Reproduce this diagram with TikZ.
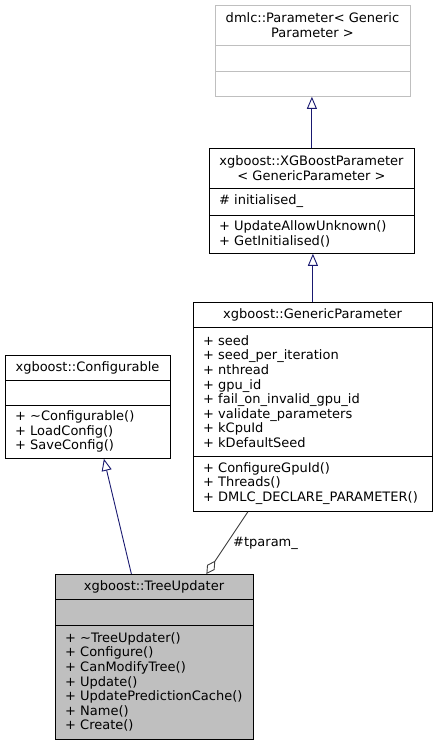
\documentclass[tikz,border=0pt]{standalone}
\usepackage{fontspec}
\setmainfont{DejaVu Sans}
\usetikzlibrary{arrows.meta}
\definecolor{edgeblue}{HTML}{191970}
\definecolor{grayborder}{HTML}{BFBFBF}
\definecolor{usegray}{HTML}{404040}
\definecolor{tufill}{HTML}{BFBFBF}
\begin{document}
\begin{tikzpicture}[x=1pt,y=-1pt,
  txt/.style={font=\fontsize{13}{14.6}\selectfont, inner sep=0pt, text=black},
  titletxt/.style={txt, align=center},
  membtxt/.style={txt, align=left, anchor=west},
  classbox/.style={draw=black, line width=0.8pt, anchor=north west, inner sep=0pt},
  graybox/.style={classbox, draw=grayborder},
  divider/.style={draw=black, line width=0.8pt},
  graydivider/.style={divider, draw=grayborder},
  inherit/.style={draw=edgeblue, line width=0.9pt, -{Triangle[length=12pt, width=10pt, fill=white]}},
  aggr/.style={draw=usegray, line width=0.9pt, -{Diamond[length=16pt, width=9pt, fill=white]}},
  lbl/.style={txt, text=black}
]
\useasboundingbox (0,0) rectangle (437,745);

% dmlc::Parameter
\node[graybox, minimum width=195pt, minimum height=91pt] (param) at (215,5) {};
\draw[graydivider] (215,45) -- (410,45);
\draw[graydivider] (215,71) -- (410,71);
\node[titletxt] (paramT) at (312.5,25) {dmlc::Parameter< Generic\\Parameter >};

% XGBoostParameter
\node[classbox, minimum width=205pt, minimum height=105pt] (xgb) at (209,148) {};
\draw[divider] (209,188) -- (414,188);
\draw[divider] (209,215) -- (414,215);
\node[titletxt] (xgbT) at (311.5,168) {xgboost::XGBoostParameter\\< GenericParameter >};
\node[membtxt] (xgbA) at (219,201.5) {\# initialised\_};
\node[membtxt] (xgbM) at (219,234) {+ UpdateAllowUnknown()\\+ GetInitialised()};

% GenericParameter
\node[classbox, minimum width=239pt, minimum height=209pt] (gp) at (193,302) {};
\draw[divider] (193,327) -- (432,327);
\draw[divider] (193,456) -- (432,456);
\node[titletxt] (gpT) at (312.5,314.5) {xgboost::GenericParameter};
\node[membtxt] (gpA) at (203,391.5) {+ seed\\+ seed\_per\_iteration\\+ nthread\\+ gpu\_id\\+ fail\_on\_invalid\_gpu\_id\\+ validate\_parameters\\+ kCpuId\\+ kDefaultSeed};
\node[membtxt] (gpM) at (203,483.5) {+ ConfigureGpuId()\\+ Threads()\\+ DMLC\_DECLARE\_PARAMETER()};

% Configurable
\node[classbox, minimum width=165pt, minimum height=103pt] (conf) at (5,355) {};
\draw[divider] (5,380) -- (170,380);
\draw[divider] (5,405) -- (170,405);
\node[titletxt] (confT) at (87.5,367.5) {xgboost::Configurable};
\node[membtxt] (confM) at (15,431.5) {+ \textasciitilde Configurable()\\+ LoadConfig()\\+ SaveConfig()};

% TreeUpdater
\node[classbox, fill=tufill, minimum width=198pt, minimum height=165pt] (tu) at (55,574) {};
\draw[divider] (55,599) -- (253,599);
\draw[divider] (55,625) -- (253,625);
\node[titletxt] (tuT) at (154,586.5) {xgboost::TreeUpdater};
\node[membtxt] (tuM) at (65,682) {+ \textasciitilde TreeUpdater()\\+ Configure()\\+ CanModifyTree()\\+ Update()\\+ UpdatePredictionCache()\\+ Name()\\+ Create()};

% connectors
\draw[inherit] (xgb.north) -- (xgb.north |- param.south);
\draw[inherit] (gp.north) -- (gp.north |- xgb.south);
\coordinate (tuUp) at ([xshift=-23pt]tu.north);
\coordinate (confDown) at ([xshift=16pt]conf.south);
\draw[inherit] (tuUp) -- (confDown);
\coordinate (gpDown) at ([xshift=-65pt]gp.south);
\coordinate (tuIn) at ([xshift=52pt]tu.north);
\draw[aggr] (gpDown) -- (tuIn);
\node[lbl, anchor=west] (tplabel) at (233,543) {\#tparam\_};
\end{tikzpicture}
\end{document}
